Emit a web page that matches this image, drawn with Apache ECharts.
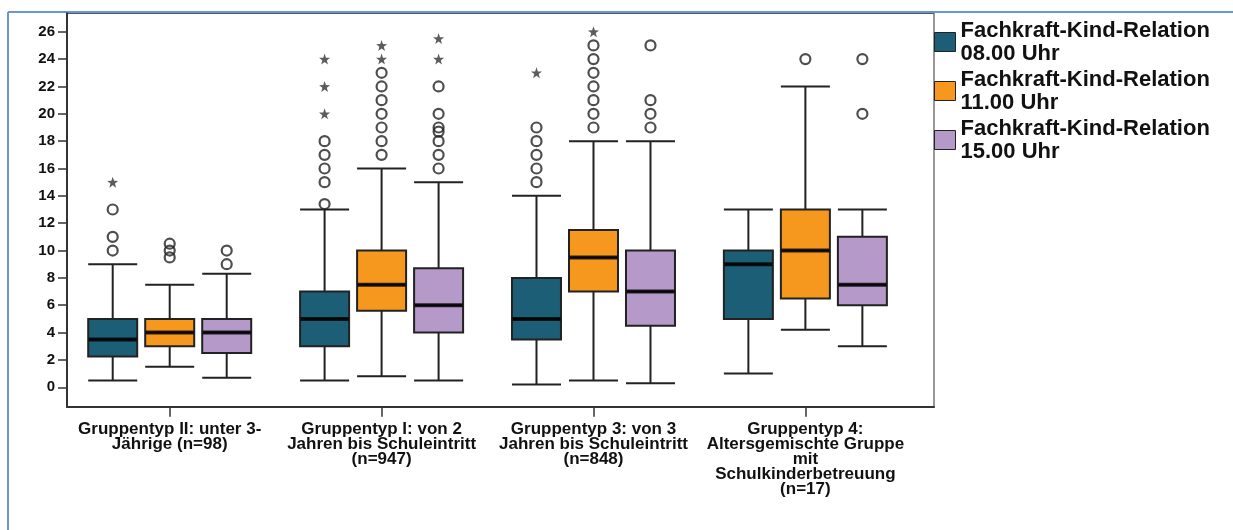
<!DOCTYPE html>
<html>
<head>
<meta charset="utf-8">
<script src="https://cdn.jsdelivr.net/npm/echarts@6/dist/echarts.min.js"></script>
<style>
html,body{margin:0;padding:0;background:#fff;}
#chart{width:1233px;height:530px;}
</style>
</head>
<body>
<div id="chart"></div>
<script>
// ---- data ----
const categories = [
  "Gruppentyp II: unter 3-\nJährige (n=98)",
  "Gruppentyp I: von 2\nJahren bis Schuleintritt\n(n=947)",
  "Gruppentyp 3: von 3\nJahren bis Schuleintritt\n(n=848)",
  "Gruppentyp 4:\nAltersgemischte Gruppe\nmit\nSchulkinderbetreuung\n(n=17)"
];
const seriesNames = [
  "Fachkraft-Kind-Relation 08.00 Uhr",
  "Fachkraft-Kind-Relation 11.00 Uhr",
  "Fachkraft-Kind-Relation 15.00 Uhr"
];
// [lower whisker, Q1, median, Q3, upper whisker] per group
const boxes0800 = [[0.5, 2.25, 3.5, 5, 9], [0.5, 3, 5, 7, 13], [0.2, 3.5, 5, 8, 14], [1, 5, 9, 10, 13]];
const boxes1100 = [[1.5, 3, 4, 5, 7.5], [0.8, 5.6, 7.5, 10, 16], [0.5, 7, 9.5, 11.5, 18], [4.2, 6.5, 10, 13, 22]];
const boxes1500 = [[0.7, 2.5, 4, 5, 8.3], [0.5, 4, 6, 8.7, 15], [0.3, 4.5, 7, 10, 18], [3, 6, 7.5, 11, 13]];
// outliers [group index, value]
const circles0800 = [[0, 10], [0, 11], [0, 13], [1, 13.4], [1, 15], [1, 16], [1, 17], [1, 18], [2, 15], [2, 16], [2, 17], [2, 18], [2, 19]];
const stars0800 = [[0, 15], [1, 20], [1, 22], [1, 24], [2, 23]];
const circles1100 = [[0, 9.5], [0, 10], [0, 10.5], [1, 17], [1, 18], [1, 19], [1, 20], [1, 21], [1, 22], [1, 23], [2, 19], [2, 20], [2, 21], [2, 22], [2, 23], [2, 24], [2, 25], [3, 24]];
const stars1100 = [[1, 24], [1, 25], [2, 26]];
const circles1500 = [[0, 9], [0, 10], [1, 16], [1, 17], [1, 18], [1, 18.7], [1, 19], [1, 20], [1, 22], [2, 19], [2, 20], [2, 21], [2, 25], [3, 20], [3, 24]];
const stars1500 = [[1, 24], [1, 25.5]];
const yTicks = [0, 2, 4, 6, 8, 10, 12, 14, 16, 18, 20, 22, 24, 26];
const xTicks = [0, 1, 2, 3];

// ---- styles / layout ----
const colors = ['#1b5e75', '#f7981e', '#b599c8'];
const X_MIN = -0.4847, X_MAX = 3.607;     // visible category axis range
const boxShift = [0.269, 0, -0.269];      // per-series axis shift (side by side boxes)
const starPath = 'path://M0,-10L2.35,-3.24L9.51,-3.09L3.8,1.24L5.88,8.09L0,4L-5.88,8.09L-3.8,1.24L-9.51,-3.09L-2.35,-3.24Z';
const FONT = '"Liberation Sans", Arial, sans-serif';

const boxSets = [boxes0800, boxes1100, boxes1500];
const circleSets = [circles0800, circles1100, circles1500];
const starSets = [stars0800, stars1100, stars1500];

const xAxes = boxShift.map((s, k) => ({
  type: 'value',
  position: 'bottom',
  show: k === 1,
  min: X_MIN + s, max: X_MAX + s,
  splitLine: { show: false },
  axisLine: { show: true, onZero: false, lineStyle: { color: '#333', width: 2 } },
  axisTick: { show: true, customValues: xTicks, length: 10, lineStyle: { color: '#333', width: 1.5 } },
  axisLabel: {
    customValues: xTicks,
    formatter: v => categories[Math.round(v)] || '',
    margin: 15,
    fontFamily: FONT, fontWeight: 'bold', fontSize: 17, lineHeight: 15, color: '#111', align: 'center'
  }
}));

const series = [];
boxSets.forEach((b, k) => {
  series.push({
    name: seriesNames[k],
    type: 'boxplot',
    xAxisIndex: k,
    data: b.map((v, i) => [i].concat(v)),
    boxWidth: [49, 49],
    itemStyle: { color: colors[k], borderColor: '#222', borderWidth: 2 },
    emphasis: { disabled: true },
    z: 2
  });
});
boxSets.forEach((b, k) => {
  series.push({
    type: 'scatter',
    xAxisIndex: k,
    data: b.map((v, i) => [i, v[2]]),
    symbol: 'rect',
    symbolSize: [48, 4],
    itemStyle: { color: '#000' },
    silent: true,
    z: 3
  });
  series.push({
    type: 'scatter',
    xAxisIndex: k,
    data: circleSets[k],
    symbol: 'circle',
    symbolSize: 10,
    itemStyle: { color: 'rgba(255,255,255,0)', borderColor: '#222', borderWidth: 2.2 },
    silent: true,
    z: 4
  });
  series.push({
    type: 'scatter',
    xAxisIndex: k,
    data: starSets[k],
    symbol: starPath,
    symbolSize: 11,
    itemStyle: { color: '#333' },
    silent: true,
    z: 4
  });
});

const chart = echarts.init(document.getElementById('chart'), null, { renderer: 'canvas' });
chart.setOption({
  animation: false,
  backgroundColor: '#fff',
  grid: {
    left: 67, right: 299, top: 13.3, bottom: 123.3,
    outerBoundsMode: 'none',
    containLabel: false,
    show: true, borderColor: '#555', borderWidth: 1.2, backgroundColor: 'transparent'
  },
  legend: {
    data: seriesNames.map((n, k) => ({ name: n, itemStyle: { color: colors[k], borderColor: '#222', borderWidth: 1 } })),
    orient: 'vertical',
    left: 934, top: 19,
    padding: 0,
    itemGap: 3,
    itemWidth: 21, itemHeight: 19,
    icon: 'rect',
    selectedMode: false,
    formatter: n => n.replace(/ (\d\d\.\d\d Uhr)$/, '\n$1'),
    textStyle: { fontFamily: FONT, fontWeight: 'bold', fontSize: 22, lineHeight: 23, color: '#111' }
  },
  xAxis: xAxes,
  yAxis: {
    type: 'value',
    min: -1.42, max: 27.35,
    splitLine: { show: false },
    axisLine: { show: true, onZero: false, lineStyle: { color: '#333', width: 2 } },
    axisTick: { show: true, customValues: yTicks, length: 9, lineStyle: { color: '#333', width: 1.5 } },
    axisLabel: {
      customValues: yTicks,
      margin: 12,
      fontFamily: FONT, fontWeight: 'bold', fontSize: 15, color: '#111'
    }
  },
  graphic: [
    { type: 'line', shape: { x1: 8, y1: 12, x2: 1233, y2: 12 }, style: { stroke: '#6a96d3', lineWidth: 2 }, silent: true },
    { type: 'line', shape: { x1: 8, y1: 12, x2: 8, y2: 530 }, style: { stroke: '#6a96d3', lineWidth: 2 }, silent: true }
  ],
  series: series
});
</script>
</body>
</html>
